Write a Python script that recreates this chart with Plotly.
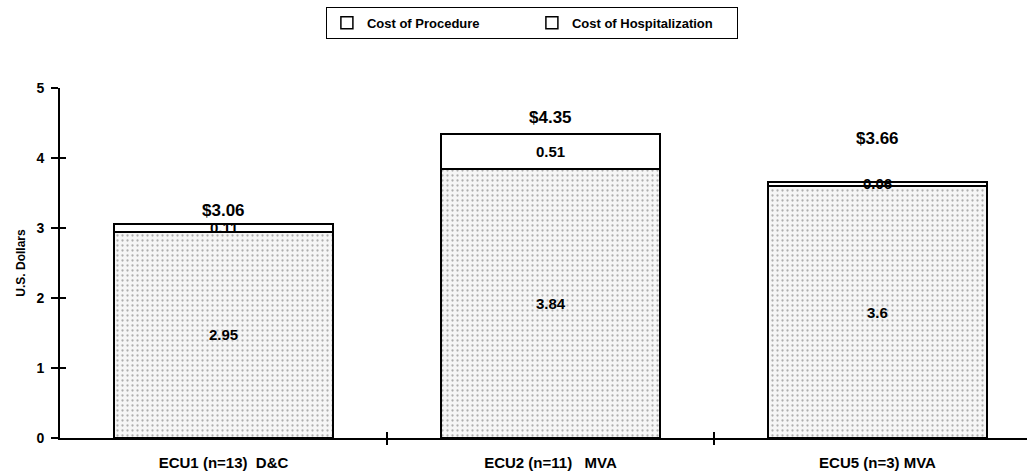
import plotly.graph_objects as go

categories = ["ECU1 (n=13)\u00a0\u00a0D&C", "ECU2 (n=11)\u00a0\u00a0\u00a0MVA", "ECU5 (n=3) MVA"]
procedure = [2.95, 3.84, 3.6]
hospitalization = [0.11, 0.51, 0.06]
y_ticks = [0, 1, 2, 3, 4, 5]

xs = list(range(len(categories)))
totals = [round(p + h, 2) for p, h in zip(procedure, hospitalization)]

FONT = "Liberation Sans, Arial, Helvetica, sans-serif"
bold = dict(family=FONT, color="black", weight="bold")

fig = go.Figure()
fig.add_trace(go.Bar(
    x=xs, y=procedure, width=0.67, showlegend=False,
    marker=dict(color="white", line=dict(color="black", width=2),
                pattern=dict(shape=".", fgcolor="#666666", bgcolor="#f6f6f6",
                             size=5, solidity=0.16)),
    hoverinfo="skip"))
fig.add_trace(go.Bar(
    x=xs, y=hospitalization, width=0.67, showlegend=False,
    marker=dict(color="white", line=dict(color="black", width=2)),
    hoverinfo="skip"))
# legend entries (empty squares as in the original)
for nm in ["Cost of Procedure", "Cost of Hospitalization"]:
    fig.add_trace(go.Bar(x=[None], y=[None], name=nm,
                         marker=dict(color="white", line=dict(color="black", width=1.5))))

ann = []
for i, (p, h, t) in enumerate(zip(procedure, hospitalization, totals)):
    ann.append(dict(x=i, y=p / 2, text=f"{p:g}", showarrow=False,
                    font=dict(size=15, **bold)))
    ann.append(dict(x=i, y=p + h / 2, text=f"{h:.2f}", showarrow=False,
                    font=dict(size=15, **bold)))
shifts = [13, 16, 43]
for i, t in enumerate(totals):
    ann.append(dict(x=i, y=t, text=f"${t:.2f}", showarrow=False, yshift=shifts[i],
                    font=dict(size=17, **bold)))

xr = [-0.5, -0.5 + 967 / 327]
fig.update_layout(
    width=1027, height=475,
    margin=dict(l=60, r=0, t=88, b=37),
    paper_bgcolor="white", plot_bgcolor="white",
    barmode="stack", bargap=0.33,
    annotations=ann,
    legend=dict(orientation="h", x=0.488, y=1.186, xanchor="center", yanchor="middle",
                bordercolor="black", borderwidth=1, font=dict(size=13, **bold),
                entrywidth=160, traceorder="normal", itemclick=False),
    xaxis=dict(range=xr, tickvals=xs, ticktext=categories, ticks="",
               showline=True, linecolor="black", linewidth=2, showgrid=False,
               zeroline=False, tickfont=dict(size=15, **bold), ticklabelstandoff=10),
    xaxis2=dict(range=xr, overlaying="x", anchor="y", side="bottom",
                tickvals=[0.5, 1.5], ticks="outside", ticklen=6, tickwidth=1.5,
                tickcolor="black", showticklabels=False, showgrid=False,
                zeroline=False, showline=False),
    xaxis3=dict(range=xr, overlaying="x", anchor="y", side="bottom",
                tickvals=[0.5, 1.5], ticks="inside", ticklen=6, tickwidth=1.5,
                tickcolor="black", showticklabels=False, showgrid=False,
                zeroline=False, showline=False),
    yaxis=dict(range=[0, 5], tickvals=y_ticks, ticks="outside", ticklen=7, tickwidth=1.5,
               tickcolor="black", showline=True, linecolor="black", linewidth=2,
               showgrid=False, zeroline=False, tickfont=dict(size=14, **bold),
               ticklabelstandoff=4,
               title=dict(text="U.S. Dollars", font=dict(size=12, **bold), standoff=8)),
    yaxis2=dict(range=[0, 5], overlaying="y", anchor="x", side="left",
                tickvals=y_ticks, ticks="inside", ticklen=6, tickwidth=1.5,
                tickcolor="black", showticklabels=False, showgrid=False,
                zeroline=False, showline=False),
)
fig.add_trace(go.Scatter(x=[None], y=[None], xaxis="x2", yaxis="y", showlegend=False, hoverinfo="skip"))
fig.add_trace(go.Scatter(x=[None], y=[None], xaxis="x3", yaxis="y", showlegend=False, hoverinfo="skip"))
fig.add_trace(go.Scatter(x=[None], y=[None], xaxis="x", yaxis="y2", showlegend=False, hoverinfo="skip"))

fig.write_html("out.html")
